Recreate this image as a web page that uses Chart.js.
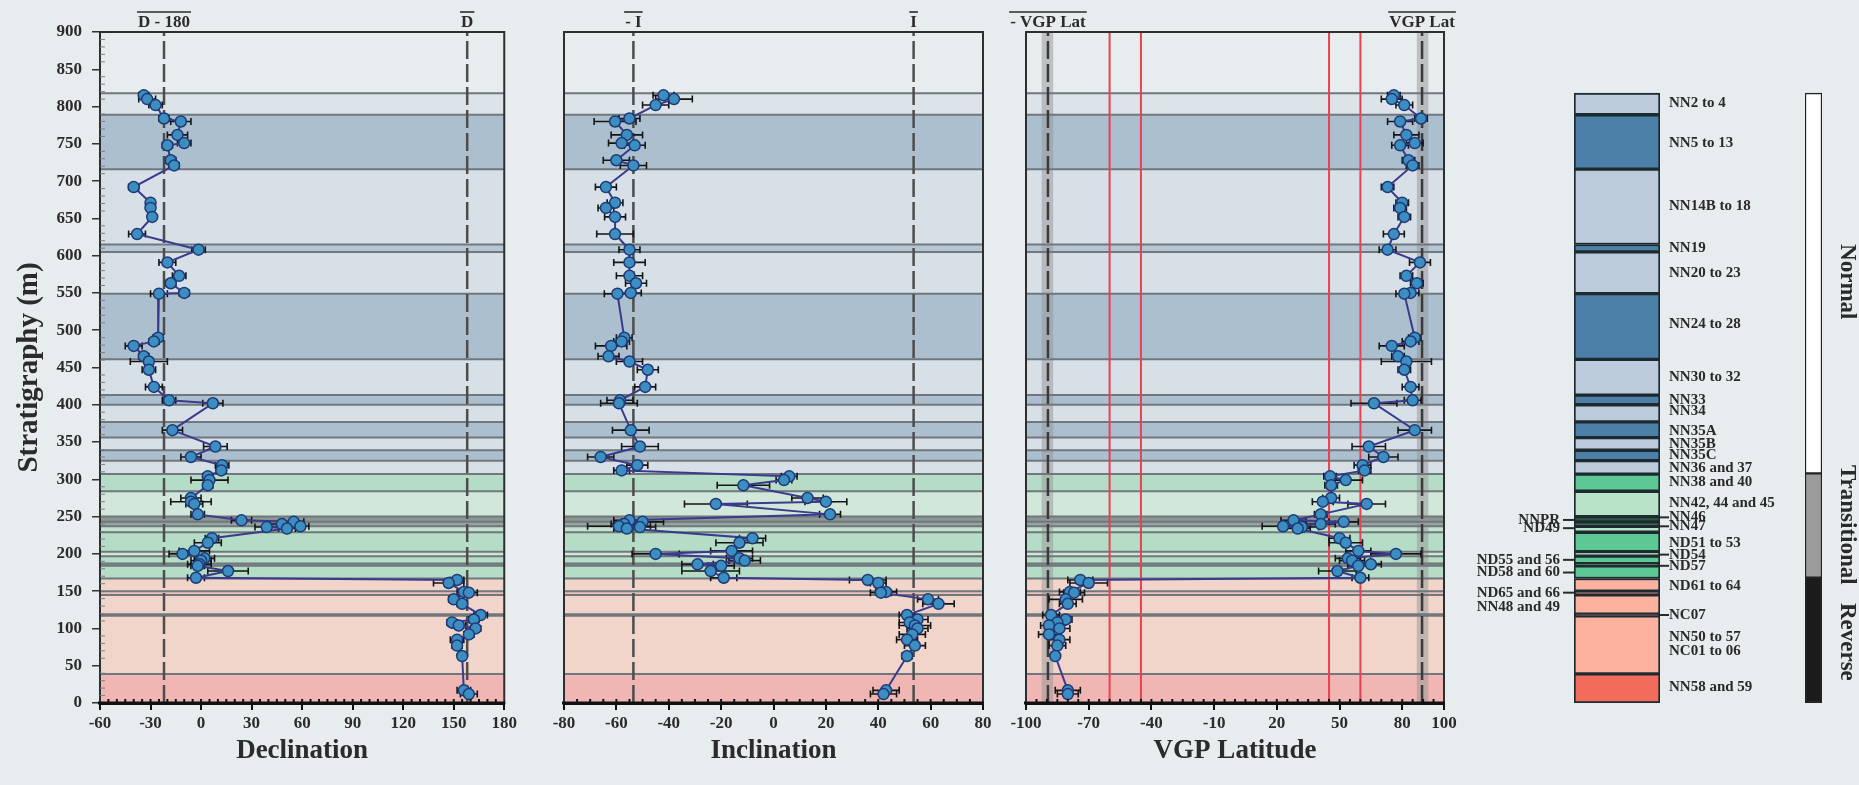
<!DOCTYPE html>
<html>
<head>
<meta charset="utf-8">
<script src="https://cdn.jsdelivr.net/npm/chart.js@4.4.0/dist/chart.umd.min.js"></script>
<style>
  html, body { margin: 0; padding: 0; background: #e7ecef; width: 1859px; height: 785px; overflow: hidden; }
  canvas { position: absolute; top: 0; }
</style>
</head>
<body>
<canvas id="dec" width="520" height="785" style="left:0px"></canvas>
<canvas id="inc" width="460" height="785" style="left:540px"></canvas>
<canvas id="vgp" width="470" height="785" style="left:1000px"></canvas>
<canvas id="zones" width="399" height="785" style="left:1460px"></canvas>
<canvas id="polarity" width="30" height="785" style="left:1799px"></canvas>
<script>
const FONT = "'Liberation Serif', 'Times New Roman', serif";
Chart.defaults.font.family = FONT;
Chart.defaults.font.weight = 'bold';
Chart.defaults.color = '#2b2b2b';

// sample depths (m) and the three measured series
const depth = [815,810,802,784,780,762,751,748,728,721, 692,671,664,652,629,608,591,573,563,550,
  549,490,485,479,465,458,447,424,406,402, 366,344,330,319,312, 304,299,292,275,270,267,253,
  245,243,240,237,236,234, 221,215,204,200,194,191,186,184,177,168,
  165,161,149,148,139,133,118,112,108,104, 100,92,85,77,63,17,12];
const dec = [-34,-32,-27,-22,-12,-14,-10,-20,-18,-16, -40,-30,-30,-29,-38,-1.5,-20,-13,-18,-10,
  -25,-25.5,-28,-40,-34,-31,-31,-28,-19,7, -17,8.5,-6,12.5,12, 4,5,4,-6,-6,-4,-2,
  24,55,48,59,39,51, 6.5,4,-4,-11,2,0,-1,-2,16,-3,
  152,147,156,159,150,155,166,162,149,153, 163,159,152,152,155,156,159];
const inc = [-42,-38,-45,-55,-60.5,-56,-58,-53,-60,-53.5, -64,-60.5,-64,-60.5,-60.5,-55,-55,-55,-52.5,-54.5,
  -59.6,-57,-58,-62,-63,-55,-48,-49,-58.6,-59, -54.5,-51,-66,-52,-58, 6,4,-11.5,13,20,-22,21.6,
  -55,-50,-57,-59,-51,-56, -8,-13,-16,-45,-13,-11,-29,-20,-24,-19,
  36,40,43,41,59,63,51,55,52,54, 55,53,51,54,51,43,42];
const vgp = [76,75,81,89,79,82,86,79,83,85, 73,80,79,81,76,73,88.5,82,87,84,
  81,86,84,75,78,82,81,84,85,66.5, 86,64,71,61,62, 45.5,53,46,46,42,63,41,
  28,52,41,23,32,30, 50,53,59,77,54,56,65,59,49,60,
  -74,-70,-79,-77,-81,-80,-88,-81,-85,-89, -84,-89,-84,-85,-86,-80,-80];
const decErr = [3,5,4,3,6,6,4,3,3,3, 3,2,2,2,5,4,5,4,3,3, 5,3,3,5,3,11,4,5,4,6, 6,7,6,4,3,
  3,11,3,6,12,5,4, 6,6,7,5,7,5, 4,8,9,8,6,6,7,4,12,5, 4,9,4,5,3,3,4,3,3,4, 3,3,4,3,2,4,5];
const incErr = [4,7,5,4,8,6,5,4,5,5, 4,3,3,4,7,4,6,5,4,4, 5,3,3,6,4,5,4,4,5,7, 7,7,5,4,3,
  3,3,10,6,8,12,4, 6,8,5,12,6,5, 5,9,8,9,5,6,6,5,11,5, 7,3,4,4,4,6,3,4,4,6, 4,5,4,4,2,5,5];
const vgpErr = [3,5,4,3,6,6,4,4,3,3, 3,3,3,3,5,4,5,3,3,4, 4,3,4,6,3,12,3,4,4,11, 8,8,7,4,3,
  3,8,3,4,5,9,3, 6,7,7,10,8,6, 5,8,6,12,6,6,5,5,9,4, 6,9,5,5,8,4,4,3,4,4, 5,5,5,4,2,6,5];

// mean directions and VGP limits
const decMean = 158;
const incMean = 53.5;
const vgpMean = 89.5;
const vgpMeanBand = [87, 92.5];
const vgpLimits = [-60, -45, 45, 60];

// x ticks
const decTicks = [-60, -30, 0, 30, 60, 90, 120, 150, 180];
const incTicks = [-80, -60, -40, -20, 0, 20, 40, 60, 80];
const vgpTicks = [-100, -70, -40, -10, 20, 50, 80, 100];

// biozones (m): top, base, column colour, band colour behind the plots
const zoneTop  = [818,789,716,615,605,549,461,413,400,377,356,339,325,307,284,250,243,237,229,203,197,187,184,167,150,145,119,117,39];
const zoneBase = [789,716,615,605,549,461,413,400,377,356,339,325,307,284,250,243,237,229,203,197,187,184,167,150,145,119,117,39,0];
const zoneColors = ['#bccbdb','#4d80a8','#bccbdb','#4d80a8','#bccbdb','#4d80a8','#bccbdb','#4d80a8','#bccbdb','#4d80a8',
  '#bccbdb','#4d80a8','#bccbdb','#5dc893','#b8e3c9','#2c5845','#3a6b52','#b8e3c9','#5dc893','#b8e3c9',
  '#5dc893','#2c5845','#5dc893','#fdb29f','#e65a4c','#fdb29f','#6a3a32','#fdb29f','#f36c5b'];
const bandColors = ['#dce3e9','#abbfcf','#d7dfe7','#b5c6d4','#d7dfe7','#abbfcf','#d7dfe7','#abbfcf','#d7dfe7','#abbfcf',
  '#d7dfe7','#abbfcf','#d7dfe7','#b4dcc6','#d0e7da','#8c9893','#97a49e','#c2e1cf','#b4dcc6','#d0e7da',
  '#b4dcc6','#8c9893','#b4dcc6','#f1d4ca','#e9c2bc','#f1d4ca','#a3938f','#f1d4ca','#efb6b3'];

// zone labels
const rightLabels = ['NN2 to 4','NN5 to 13','NN14B to 18','NN19','NN20 to 23','NN24 to 28','NN30 to 32','NN33','NN34',
  'NN35A','NN35B','NN35C','NN36 and 37','NN38 and 40','NN42, 44 and 45','NN46','NN47','ND51 to 53','ND54','ND57',
  'ND61 to 64','NC07','NN50 to 57','NC01 to 06','NN58 and 59'];
const rightDepth = [804,751,667,610,576,508,437,406,391,364,347,333,315,296,268,249,237,215,199,184,157,118,89,70,21];
const rightLeaders = ['NN46','NN47','ND54','ND57','NC07'];
const leftLabels = ['NNPR','ND49','ND55 and 56','ND58 and 60','ND65 and 66','NN48 and 49'];
const leftDepth = [245.5,234.5,192,175,148,129];
const leftLeaders = ['NNPR','ND49','ND55 and 56','ND58 and 60','ND65 and 66'];

// polarity
const polarityNames = ['Normal','Transitional','Reverse'];
const polarityTop = [818,308,168];
const polarityBase = [308,168,0];
const polarityColors = ['#ffffff','#9b9b9b','#1b1b1b'];
const polarityLabelDepth = [565,239,82];

const panelCfg = {
  dec: { vals: dec, err: decErr, minor: 5, yMinor: true, shades: [],
         tops: [[decMean - 180, 'D - 180'], [decMean, 'D']] },
  inc: { vals: inc, err: incErr, minor: 5, yMinor: false, shades: [],
         tops: [[-incMean, '- I'], [incMean, 'I']] },
  vgp: { vals: vgp, err: vgpErr, minor: 5, yMinor: false,
         shades: [[-vgpMeanBand[1], -vgpMeanBand[0]], vgpMeanBand],
         tops: [[-vgpMean, '- VGP Lat'], [vgpMean, 'VGP Lat']] }
};

const panelDecor = {
  id: 'panelDecor',
  beforeDatasetsDraw(chart) {
    const cfg = panelCfg[chart.canvas.id];
    const { ctx, chartArea: a, scales: { x, y } } = chart;
    ctx.save();
    zoneTop.forEach((t, i) => {
      const y0 = y.getPixelForValue(t), y1 = y.getPixelForValue(zoneBase[i]);
      ctx.fillStyle = bandColors[i];
      ctx.fillRect(a.left, y0, a.right - a.left, y1 - y0);
    });
    cfg.shades.forEach(([lo, hi]) => {
      const x0 = x.getPixelForValue(lo), x1 = x.getPixelForValue(hi);
      ctx.fillStyle = 'rgba(150,150,150,0.5)';
      ctx.fillRect(x0, a.top, x1 - x0, a.bottom - a.top);
    });
    ctx.strokeStyle = '#70777d';
    ctx.lineWidth = 2;
    zoneTop.forEach((t) => {
      const py = y.getPixelForValue(t);
      ctx.beginPath(); ctx.moveTo(a.left, py); ctx.lineTo(a.right, py); ctx.stroke();
    });
    ctx.restore();
  },
  beforeDatasetDraw(chart, args) {
    if (args.index !== 0) return;
    const cfg = panelCfg[chart.canvas.id];
    const { ctx, scales: { x, y } } = chart;
    ctx.save();
    ctx.strokeStyle = '#151515';
    ctx.lineWidth = 1.6;
    cfg.vals.forEach((v, i) => {
      const py = y.getPixelForValue(depth[i]);
      const xl = x.getPixelForValue(v - cfg.err[i]), xr = x.getPixelForValue(v + cfg.err[i]);
      ctx.beginPath();
      ctx.moveTo(xl, py); ctx.lineTo(xr, py);
      ctx.moveTo(xl, py - 3.5); ctx.lineTo(xl, py + 3.5);
      ctx.moveTo(xr, py - 3.5); ctx.lineTo(xr, py + 3.5);
      ctx.stroke();
    });
    ctx.restore();
  },
  afterDraw(chart) {
    const cfg = panelCfg[chart.canvas.id];
    const { ctx, chartArea: a, scales: { x, y } } = chart;
    ctx.save();
    // frame
    ctx.strokeStyle = '#2e2e2e';
    ctx.lineWidth = 2;
    ctx.strokeRect(a.left, a.top, a.right - a.left, a.bottom - a.top);
    ctx.strokeStyle = '#111';
    ctx.lineWidth = 3;
    ctx.beginPath(); ctx.moveTo(a.left - 2, a.bottom); ctx.lineTo(a.right + 1, a.bottom); ctx.stroke();
    // minor ticks on the bottom axis
    ctx.lineWidth = 2;
    for (let v = x.min + cfg.minor; v < x.max; v += cfg.minor) {
      const px = x.getPixelForValue(v);
      ctx.beginPath(); ctx.moveTo(px, a.bottom); ctx.lineTo(px, a.bottom - 4); ctx.stroke();
    }
    if (cfg.yMinor) {
      ctx.strokeStyle = '#7a7f84';
      ctx.lineWidth = 1;
      for (let v = 10; v < 900; v += 10) {
        if (v % 50 === 0) continue;
        const py = y.getPixelForValue(v);
        ctx.beginPath(); ctx.moveTo(a.left, py); ctx.lineTo(a.left + 5, py); ctx.stroke();
      }
    }
    // labels over the mean lines
    ctx.fillStyle = '#2b2b2b';
    ctx.strokeStyle = '#2b2b2b';
    ctx.lineWidth = 1.6;
    ctx.font = 'bold 17px ' + FONT;
    ctx.textAlign = 'center';
    ctx.textBaseline = 'alphabetic';
    cfg.tops.forEach(([v, txt]) => {
      const px = x.getPixelForValue(v);
      const w = ctx.measureText(txt).width;
      ctx.fillText(txt, px, 27);
      ctx.beginPath(); ctx.moveTo(px - w / 2 - 1, 12); ctx.lineTo(px + w / 2 + 1, 12); ctx.stroke();
    });
    ctx.restore();
  }
};

function refLine(v, color, width, dash) {
  return { data: [{ x: v, y: 0 }, { x: v, y: 900 }], borderColor: color, borderWidth: width,
           borderDash: dash, pointRadius: 0, fill: false };
}

function makePanel(id, vals, refs, ticks, title, yWidth, padRight, showY) {
  const series = {
    data: vals.map((v, i) => ({ x: v, y: depth[i] })),
    borderColor: '#3b3a8c', borderWidth: 2,
    pointRadius: 5.5, pointBackgroundColor: '#3c8dc0',
    pointBorderColor: '#1d3a78', pointBorderWidth: 1.5, fill: false
  };
  new Chart(document.getElementById(id), {
    type: 'line',
    data: { datasets: [series, ...refs] },
    options: {
      responsive: false, animation: false, devicePixelRatio: 1,
      layout: { padding: { top: 32, right: padRight, left: 0, bottom: 0 } },
      plugins: { legend: { display: false }, tooltip: { enabled: false } },
      scales: {
        x: {
          type: 'linear', min: ticks[0], max: ticks[ticks.length - 1],
          afterBuildTicks: (s) => { s.ticks = ticks.map((v) => ({ value: v })); },
          afterFit: (s) => { s.height = 82; },
          ticks: { font: { size: 17, weight: 'bold' }, padding: 3, color: '#2b2b2b' },
          grid: { drawOnChartArea: false, tickLength: 7, color: '#111', lineWidth: 2 },
          border: { color: '#111', width: 3 },
          title: { display: true, text: title, font: { size: 27, weight: 'bold' }, color: '#2b2b2b',
                   padding: { top: 0, bottom: 18 } }
        },
        y: {
          type: 'linear', min: 0, max: 900,
          afterFit: (s) => { s.width = yWidth; },
          ticks: { display: showY, stepSize: 50, font: { size: 17, weight: 'bold' }, padding: 10, color: '#2b2b2b' },
          grid: { display: showY, drawOnChartArea: false, tickLength: 8, color: '#333', lineWidth: 1.5 },
          border: { color: '#2e2e2e', width: 2 },
          title: { display: showY, text: 'Stratigraphy (m)', font: { size: 29, weight: 'bold' }, color: '#2b2b2b',
                   padding: { top: 12, bottom: 0 } }
        }
      }
    },
    plugins: [panelDecor]
  });
}

const meanDash = [18, 5];
makePanel('dec', dec,
  [refLine(decMean - 180, '#4d4d4d', 2.5, meanDash), refLine(decMean, '#4d4d4d', 2.5, meanDash)],
  decTicks, 'Declination', 100, 14, true);
makePanel('inc', inc,
  [refLine(-incMean, '#4d4d4d', 2.5, meanDash), refLine(incMean, '#4d4d4d', 2.5, meanDash)],
  incTicks, 'Inclination', 24, 17, false);
makePanel('vgp', vgp,
  [refLine(-vgpMean, '#3a3a3a', 2.5, meanDash), refLine(vgpMean, '#3a3a3a', 2.5, meanDash),
   ...vgpLimits.map((v) => refLine(v, '#e8414f', 2, []))],
  vgpTicks, 'VGP Latitude', 26, 26, false);

// zone labels for the biozone column and the polarity names
const zoneLabels = {
  id: 'zoneLabels',
  afterDraw(chart) {
    const { ctx, chartArea: a, scales: { y } } = chart;
    ctx.save();
    ctx.fillStyle = '#2a2a2a';
    ctx.strokeStyle = '#2a2a2a';
    ctx.lineWidth = 2;
    ctx.font = 'bold 15px ' + FONT;
    ctx.textBaseline = 'middle';
    ctx.textAlign = 'left';
    rightLabels.forEach((t, i) => {
      const py = y.getPixelForValue(rightDepth[i]);
      if (rightLeaders.includes(t)) {
        ctx.beginPath(); ctx.moveTo(a.right, py); ctx.lineTo(a.right + 9, py); ctx.stroke();
      }
      ctx.fillText(t, a.right + 9, py);
    });
    ctx.textAlign = 'right';
    leftLabels.forEach((t, i) => {
      const py = y.getPixelForValue(leftDepth[i]);
      if (leftLeaders.includes(t)) {
        ctx.beginPath(); ctx.moveTo(a.left - 11, py); ctx.lineTo(a.left, py); ctx.stroke();
      }
      ctx.fillText(t, a.left - 14, py);
    });
    ctx.font = 'bold 23px ' + FONT;
    ctx.textAlign = 'center';
    polarityNames.forEach((t, i) => {
      const py = y.getPixelForValue(polarityLabelDepth[i]);
      ctx.save();
      ctx.translate(387, py);
      ctx.rotate(Math.PI / 2);
      ctx.fillText(t, 0, 0);
      ctx.restore();
    });
    ctx.restore();
  }
};

function columnChart(id, tops, bases, colors, border, bw, pad) {
  new Chart(document.getElementById(id), {
    type: 'bar',
    data: {
      labels: ['col'],
      datasets: tops.map((t, i) => ({
        data: [[bases[i], t]], backgroundColor: colors[i], borderColor: border, borderWidth: bw,
        borderSkipped: false, grouped: false, categoryPercentage: 1, barPercentage: 1
      }))
    },
    options: {
      responsive: false, animation: false, devicePixelRatio: 1,
      layout: { padding: pad },
      plugins: { legend: { display: false }, tooltip: { enabled: false } },
      scales: { x: { display: false }, y: { display: false, min: 0, max: 900 } }
    },
    plugins: id === 'zones' ? [zoneLabels] : []
  });
}

columnChart('zones', zoneTop, zoneBase, zoneColors, '#1d2b31', 2,
  { left: 114, right: 199, top: 32, bottom: 82 });
columnChart('polarity', polarityTop, polarityBase, polarityColors, '#222', 1.5,
  { left: 6, right: 7, top: 32, bottom: 82 });
</script>
</body>
</html>
